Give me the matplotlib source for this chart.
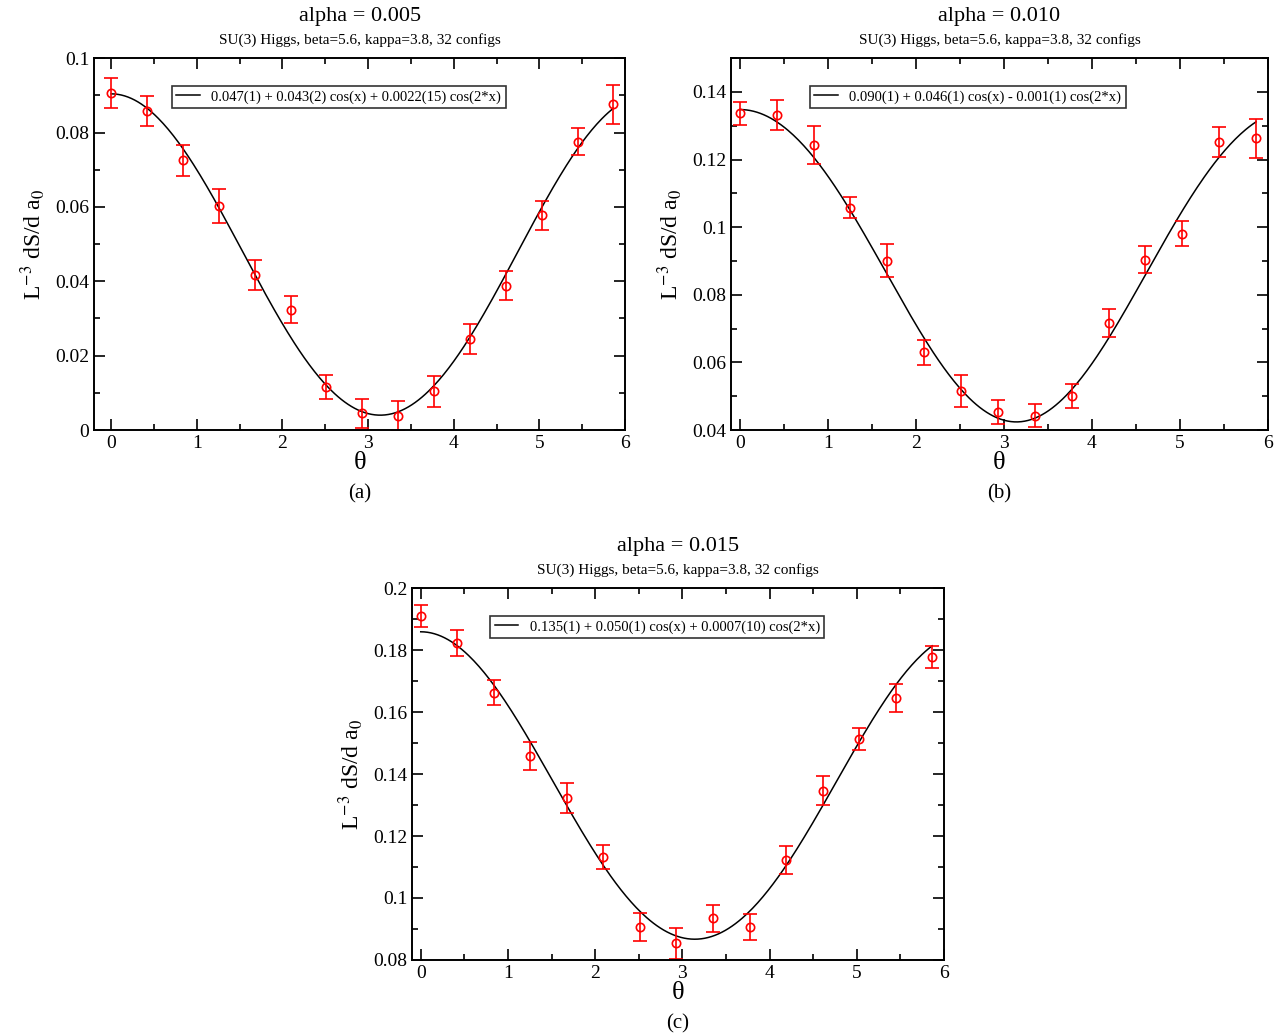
import numpy as np
import matplotlib
matplotlib.use("Agg")
from matplotlib import pyplot as plt
from matplotlib.ticker import MultipleLocator, FormatStrFormatter

plt.rcParams["font.family"] = ["Liberation Serif", "DejaVu Serif"]
plt.rcParams["mathtext.fontset"] = "stix"

# theta values, 2*pi*k/15
theta = [0.0, 0.419, 0.838, 1.257, 1.676, 2.094, 2.513, 2.932,
         3.351, 3.770, 4.189, 4.608, 5.027, 5.445, 5.864]

vals_a = [0.0907, 0.0858, 0.0725, 0.0603, 0.0417, 0.0324, 0.0115, 0.0045,
          0.0038, 0.0104, 0.0245, 0.0388, 0.0577, 0.0775, 0.0876]
errs_a = [0.0040, 0.0041, 0.0041, 0.0045, 0.0041, 0.0037, 0.0032, 0.0039,
          0.0040, 0.0042, 0.0041, 0.0039, 0.0040, 0.0036, 0.0052]

vals_b = [0.1337, 0.1332, 0.1243, 0.1058, 0.0901, 0.0630, 0.0515, 0.0453,
          0.0442, 0.0500, 0.0717, 0.0904, 0.0981, 0.1251, 0.1263]
errs_b = [0.0034, 0.0045, 0.0055, 0.0030, 0.0048, 0.0037, 0.0047, 0.0035,
          0.0034, 0.0035, 0.0041, 0.0040, 0.0036, 0.0044, 0.0057]

vals_c = [0.1910, 0.1823, 0.1662, 0.1458, 0.1323, 0.1132, 0.0905, 0.0854,
          0.0934, 0.0906, 0.1123, 0.1346, 0.1513, 0.1646, 0.1777]
errs_c = [0.0034, 0.0043, 0.0040, 0.0045, 0.0048, 0.0040, 0.0045, 0.0050,
          0.0044, 0.0042, 0.0044, 0.0047, 0.0034, 0.0045, 0.0035]

# fit coefficients a + b cos(x) + c cos(2x)
fit_a = [0.0468, 0.0432, 0.0004]
fit_b = [0.0897, 0.0462, -0.0011]
fit_c = [0.1356, 0.0496, 0.0007]

labels = ["0.047(1) + 0.043(2) cos(x) + 0.0022(15) cos(2*x)",
          "0.090(1) + 0.046(1) cos(x) - 0.001(1) cos(2*x)",
          "0.135(1) + 0.050(1) cos(x) + 0.0007(10) cos(2*x)"]
titles = ["alpha = 0.005", "alpha = 0.010", "alpha = 0.015"]
subtitle = "SU(3) Higgs, beta=5.6, kappa=3.8, 32 configs"
captions = ["(a)", "(b)", "(c)"]

fig = plt.figure(figsize=(12.78, 10.33), dpi=100)

panels = [
    dict(rect=[0.0736, 0.5837, 0.4155, 0.360], xlim=(-0.2, 6), ylim=(0, 0.1),
         vals=vals_a, errs=errs_a, fit=fit_a),
    dict(rect=[0.5720, 0.5837, 0.4202, 0.360], xlim=(-0.1, 6), ylim=(0.04, 0.15),
         vals=vals_b, errs=errs_b, fit=fit_b),
    dict(rect=[0.3224, 0.0707, 0.4163, 0.360], xlim=(-0.1, 6), ylim=(0.08, 0.2),
         vals=vals_c, errs=errs_c, fit=fit_c),
]

for i, p in enumerate(panels):
    ax = fig.add_axes(p["rect"])
    x = np.linspace(0, theta[-1], 300)
    a, b, c = p["fit"]
    ax.plot(x, a + b*np.cos(x) + c*np.cos(2*x), color="black", lw=1.1, label=labels[i])
    ax.errorbar(theta, p["vals"], yerr=p["errs"], fmt="o", mfc="none", mec="red",
                ecolor="red", ms=6, mew=1.2, elinewidth=1.2, capsize=5, capthick=1.2)
    ax.set_xlim(*p["xlim"])
    ax.set_ylim(*p["ylim"])
    ax.xaxis.set_major_locator(MultipleLocator(1))
    ax.xaxis.set_minor_locator(MultipleLocator(0.5))
    ax.yaxis.set_major_locator(MultipleLocator(0.02))
    ax.yaxis.set_minor_locator(MultipleLocator(0.01))
    ax.yaxis.set_major_formatter(FormatStrFormatter("%g"))
    ax.tick_params(which="both", direction="in", top=True, right=True, labelsize=14, width=1.2)
    ax.tick_params(which="major", length=8)
    ax.tick_params(which="minor", length=4)
    for s in ax.spines.values():
        s.set_linewidth(1.4)
    ax.set_xlabel("θ", fontsize=19, labelpad=0)
    ax.set_ylabel(r"L$^{-3}$ dS/d a$_0$", fontsize=17, labelpad=6)
    ax.text(0.5, 1.113, titles[i], transform=ax.transAxes, ha="center", va="center", fontsize=16)
    ax.text(0.5, 1.049, subtitle, transform=ax.transAxes, ha="center", va="center", fontsize=11)
    ax.text(0.5, -0.172, captions[i], transform=ax.transAxes, ha="center", va="center", fontsize=15)
    leg = ax.legend(loc="lower left", bbox_to_anchor=(0.147, 0.866), fontsize=10.5,
                    frameon=True, fancybox=False, handlelength=1.6, borderpad=0.3,
                    borderaxespad=0)
    leg.get_frame().set_edgecolor("black")
    leg.get_frame().set_linewidth(1.2)

fig.savefig("out.png", dpi=100)
